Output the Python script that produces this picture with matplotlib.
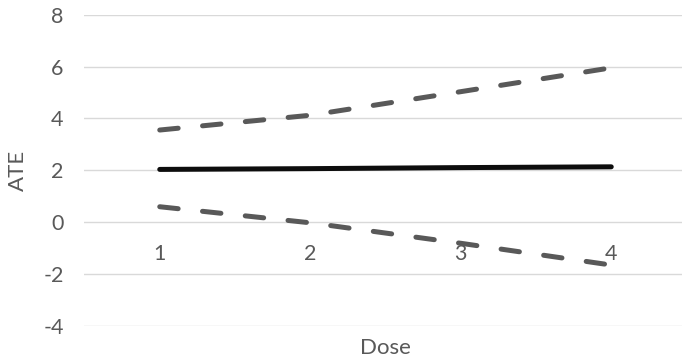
import numpy as np
import matplotlib
matplotlib.use('Agg')
import matplotlib.pyplot as plt

# data
dose = [1, 2, 3, 4]
ate = [2.03, 2.06, 2.10, 2.13]
upper = [3.55, 4.12, 5.03, 5.95]
lower = [0.59, -0.03, -0.82, -1.66]
y_ticks = [-4, -2, 0, 2, 4, 6, 8]

plt.rcParams['font.family'] = ['Lato', 'DejaVu Sans']
plt.rcParams['axes.unicode_minus'] = False  # plain hyphen like Excel
grey = '#595959'

fig = plt.figure(figsize=(6.82, 3.62), dpi=100)
ax = fig.add_axes([0.1239, 0.1003, 0.8827, 0.8591])

ax.plot(dose, upper, color=grey, lw=3.6, dashes=(3.7, 4.9),
        dash_capstyle='round', zorder=3)
ax.plot(dose, lower, color=grey, lw=3.6, dashes=(3.7, 4.9),
        dash_capstyle='round', zorder=3)
ax.plot(dose, ate, color='#0d0d0d', lw=3.6, solid_capstyle='round', zorder=3)

ax.set_xlim(0.5, 4.5)
ax.set_ylim(-4, 8)
ax.set_yticks(y_ticks)
ax.set_xticks(dose)
ax.set_xticklabels([str(d) for d in dose])

# horizontal gridlines only, like Excel
ax.grid(axis='y', color='#d9d9d9', lw=1.0)
ax.set_axisbelow(True)
for s in ['top', 'right', 'left']:
    ax.spines[s].set_visible(False)
ax.spines['bottom'].set_position(('data', 0))
ax.spines['bottom'].set_visible(False)

ax.tick_params(axis='both', length=0, colors=grey, labelsize=15.5)
ax.tick_params(axis='y', pad=15)
ax.tick_params(axis='x', pad=16)

fig.text(0.026, 0.53, 'ATE', rotation=90, ha='center', va='center',
         color=grey, fontsize=16)
fig.text(0.565, 0.04, 'Dose', ha='center', va='center', color=grey, fontsize=16)

fig.savefig('out.png', dpi=100)
